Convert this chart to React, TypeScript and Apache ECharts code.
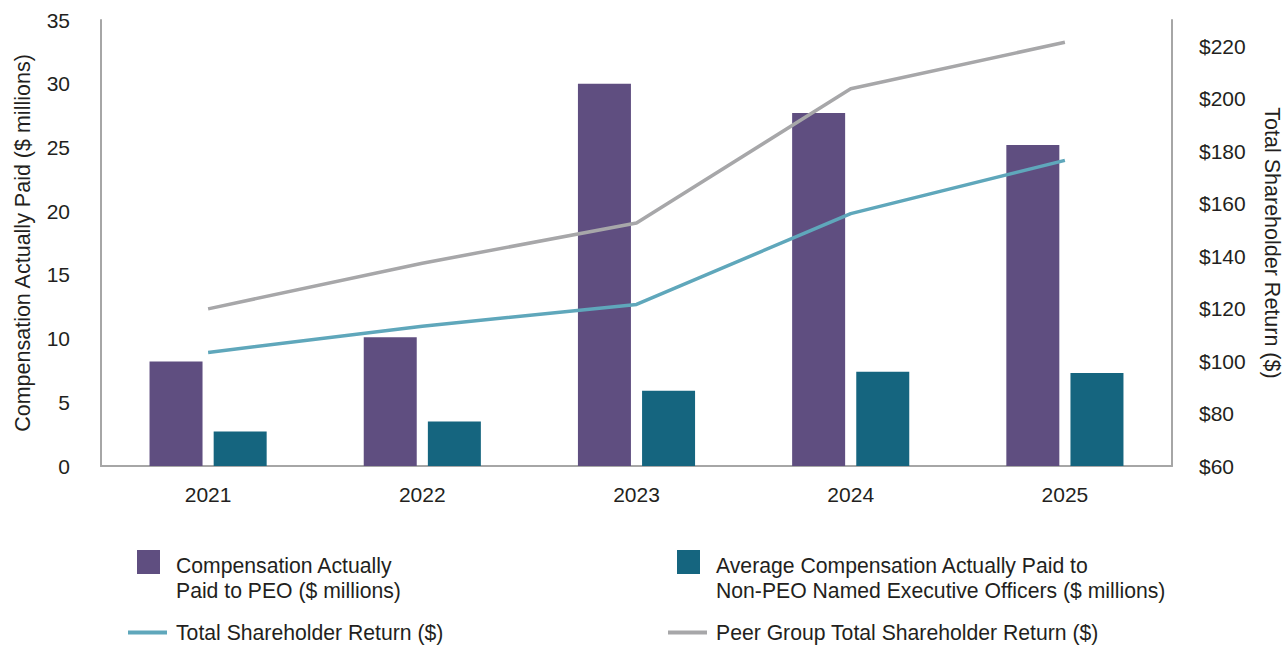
import React, { useEffect, useRef } from "react";
import * as echarts from "echarts";

const years = ["2021", "2022", "2023", "2024", "2025"];
const peoCap = [8.2, 10.1, 30.0, 27.7, 25.2];
const neoCap = [2.7, 3.5, 5.9, 7.4, 7.3];
const tsr = [103.3, 113.3, 121.6, 156.2, 176.5];
const peerTsr = [119.9, 137.3, 152.6, 203.8, 221.5];

const leftTicks = { min: 0, max: 35, interval: 5 };
const rightTicks = { min: 60, max: 230, interval: 20 };

const NAME_PEO = "Compensation Actually Paid to PEO ($ millions)";
const NAME_NEO = "Average Compensation Actually Paid to Non-PEO Named Executive Officers ($ millions)";
const NAME_TSR = "Total Shareholder Return ($)";
const NAME_PEER = "Peer Group Total Shareholder Return ($)";

const legendLines: Record<string, string[]> = {
  [NAME_PEO]: ["Compensation Actually", "Paid to PEO ($ millions)"],
  [NAME_NEO]: ["Average Compensation Actually Paid to", "Non-PEO Named Executive Officers ($ millions)"],
  [NAME_TSR]: [NAME_TSR],
  [NAME_PEER]: [NAME_PEER],
};

const FONT = "'Liberation Sans', Arial, sans-serif";
const TEXT = "#231f20";
const AXIS = "#a6a6a6";
const PURPLE = "#5f4e80";
const TEAL = "#15657f";
const TEAL_LINE = "#5fa7bb";
const GRAY_LINE = "#a7a7a9";
const FS = 21;
const LFS = 21.2;

export default function App() {
  const ref = useRef<HTMLDivElement>(null);
  useEffect(() => {
    if (!ref.current) return;
    const chart = echarts.init(ref.current, undefined, { renderer: "svg" });
    const barLegend = (name: string, left: number) => ({
      data: [name],
      left,
      top: 535,
      padding: 0,
      itemWidth: 23,
      itemHeight: 24,
      icon: "rect",
      formatter: (n: string) =>
        "{s| }\n" + legendLines[n].map((l) => "{t|" + l + "}").join("\n"),
      textStyle: {
        fontFamily: FONT,
        fontSize: LFS,
        color: TEXT,
        rich: {
          s: { fontSize: 4, lineHeight: 31, padding: [0, 0, 0, 11] },
          t: { fontFamily: FONT, fontSize: LFS, color: TEXT, lineHeight: 25, padding: [0, 0, 0, 11] },
        },
      },
    });
    const lineLegend = (name: string, left: number) => ({
      data: [name],
      left,
      top: 622,
      padding: 0,
      itemWidth: 39,
      itemHeight: 4,
      icon: "rect",
      formatter: (n: string) => "{t|" + legendLines[n][0] + "}",
      textStyle: {
        fontFamily: FONT,
        fontSize: LFS,
        color: TEXT,
        rich: {
          t: { fontFamily: FONT, fontSize: LFS, color: TEXT, lineHeight: 24, padding: [0, 0, 0, 4] },
        },
      },
    });
    chart.setOption({
      animation: false,
      textStyle: { fontFamily: FONT },
      grid: {
        left: 101,
        right: 116,
        top: 20,
        bottom: 179,
        containLabel: false,
        outerBoundsMode: "none",
      },
      legend: [
        barLegend(NAME_PEO, 137),
        barLegend(NAME_NEO, 677),
        lineLegend(NAME_TSR, 128),
        lineLegend(NAME_PEER, 668),
      ],
      xAxis: {
        type: "category",
        data: years,
        axisLine: { show: true, lineStyle: { color: AXIS, width: 2 } },
        axisTick: { show: false },
        axisLabel: { fontSize: FS, color: TEXT, margin: 18 },
      },
      yAxis: [
        {
          type: "value",
          ...leftTicks,
          position: "left",
          name: "Compensation Actually Paid ($ millions)",
          nameLocation: "middle",
          nameGap: 67,
          nameTextStyle: { fontSize: 21.5, color: TEXT },
          axisLine: { show: true, lineStyle: { color: AXIS, width: 2 } },
          axisTick: { show: false },
          splitLine: { show: false },
          axisLabel: { fontSize: FS, color: TEXT, margin: 31 },
        },
        {
          type: "value",
          ...rightTicks,
          position: "right",
          name: "Total Shareholder Return ($)",
          nameLocation: "middle",
          nameRotate: -90,
          nameGap: 89,
          nameTextStyle: { fontSize: 21.5, color: TEXT },
          axisLine: { show: true, lineStyle: { color: AXIS, width: 2 } },
          axisTick: { show: false },
          splitLine: { show: false },
          axisLabel: {
            fontSize: FS,
            color: TEXT,
            margin: 27,
            formatter: (v: number) => (v === rightTicks.max ? "" : "$" + v),
          },
        },
      ],
      series: [
        {
          name: NAME_PEO,
          type: "bar",
          data: peoCap,
          barWidth: 53,
          barGap: "21%",
          itemStyle: { color: PURPLE },
        },
        {
          name: NAME_NEO,
          type: "bar",
          data: neoCap,
          barWidth: 53,
          barGap: "21%",
          itemStyle: { color: TEAL },
        },
        {
          name: NAME_TSR,
          type: "line",
          yAxisIndex: 1,
          data: tsr,
          showSymbol: false,
          symbol: "none",
          lineStyle: { color: TEAL_LINE, width: 3.5 },
          itemStyle: { color: TEAL_LINE },
        },
        {
          name: NAME_PEER,
          type: "line",
          yAxisIndex: 1,
          data: peerTsr,
          showSymbol: false,
          symbol: "none",
          lineStyle: { color: GRAY_LINE, width: 3.5 },
          itemStyle: { color: GRAY_LINE },
        },
      ],
    });
    return () => chart.dispose();
  }, []);
  return (
    <div
      ref={ref}
      style={{ position: "fixed", left: 0, top: 0, width: 1288, height: 645, background: "#fff" }}
    />
  );
}
